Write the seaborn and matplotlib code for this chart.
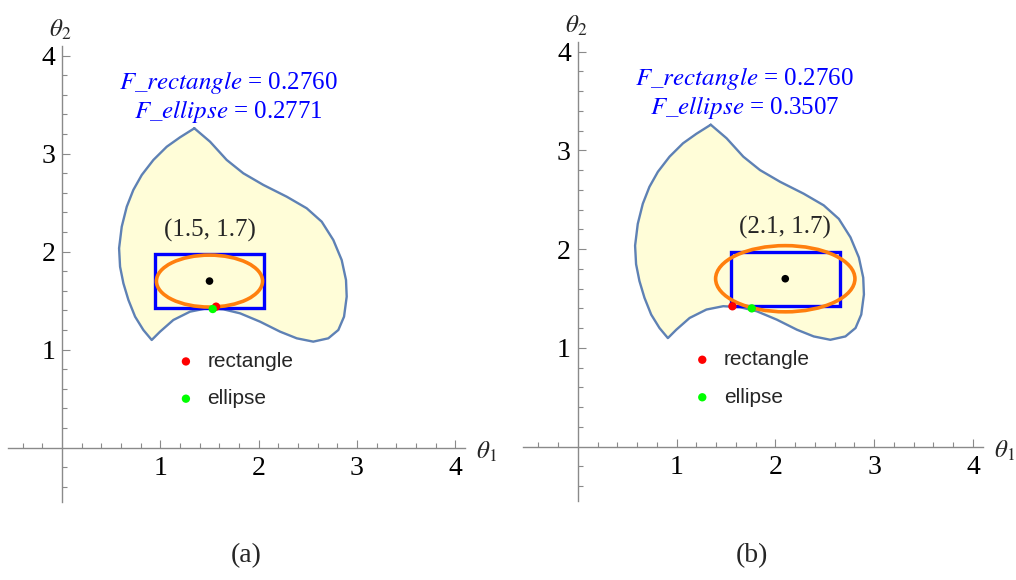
import numpy as np
import matplotlib
matplotlib.use("Agg")
import matplotlib.pyplot as plt
from matplotlib.patches import Rectangle, Ellipse
import seaborn as sns

sns.set_theme(style="white")
plt.rcParams["font.family"] = ["Liberation Serif", "DejaVu Serif"]
plt.rcParams["mathtext.fontset"] = "stix"

# feasible region outline (same for both panels), clockwise from the top cusp
boundary_x = [1.346, 1.506, 1.675, 1.844, 2.048, 2.286, 2.489, 2.642, 2.760, 2.845, 2.889,
              2.896, 2.869, 2.811, 2.709, 2.556, 2.388, 2.218, 2.014, 1.811, 1.641, 1.472,
              1.302, 1.132, 0.997, 0.912, 0.827, 0.743, 0.675, 0.624, 0.590, 0.580, 0.607,
              0.658, 0.725, 0.811, 0.929, 1.065, 1.200, 1.346]
boundary_y = [3.259, 3.122, 2.936, 2.800, 2.681, 2.561, 2.443, 2.306, 2.119, 1.915, 1.711,
              1.541, 1.337, 1.201, 1.116, 1.082, 1.116, 1.184, 1.286, 1.371, 1.412, 1.422,
              1.388, 1.303, 1.184, 1.099, 1.201, 1.337, 1.507, 1.677, 1.847, 2.035, 2.255,
              2.459, 2.630, 2.783, 2.936, 3.071, 3.167, 3.259]

center_x = [1.5, 2.1]
center_y = [1.7, 1.7]
center_labels = ["(1.5, 1.7)", "(2.1, 1.7)"]
rect_w = [1.10, 1.10]
rect_h = [0.55, 0.55]
ellipse_w = [1.08, 1.41]
ellipse_h = [0.53, 0.67]
rect_pt_x = [1.567, 1.565]
rect_pt_y = [1.439, 1.421]
ell_pt_x = [1.533, 1.761]
ell_pt_y = [1.415, 1.400]
f_rect = ["0.2760", "0.2760"]
f_ell = ["0.2771", "0.3507"]
captions = ["(a)", "(b)"]

axis_gray = "#8a8a8a"
edge_blue = "#5E81B5"
fill_yellow = "#FFFDD8"

fig = plt.figure(figsize=(10.16, 5.8), dpi=100)
positions = [[0.0079, 0.1352, 0.4498, 0.7857], [0.5152, 0.1362, 0.4522, 0.7920]]
caption_x = [0.242, 0.740]

minor = [v for v in np.arange(-0.4, 4.01, 0.2) if abs(v - round(v)) > 1e-6]

for i in range(2):
    ax = fig.add_axes(positions[i])
    ax.set_xlim(-0.55, 4.1)
    ax.set_ylim(-0.55, 4.1)

    # region
    ax.fill(boundary_x, boundary_y, color=fill_yellow, zorder=1)
    sns.lineplot(x=boundary_x, y=boundary_y, sort=False, color=edge_blue,
                 lw=1.7, ax=ax, zorder=2, estimator=None)

    # inscribed shapes
    ax.add_patch(Rectangle((center_x[i] - rect_w[i] / 2, center_y[i] - rect_h[i] / 2),
                           rect_w[i], rect_h[i], fill=False, ec="#0000FF", lw=2.4, zorder=3))
    ax.add_patch(Ellipse((center_x[i], center_y[i]), ellipse_w[i], ellipse_h[i],
                         fill=False, ec="#FF7F0E", lw=2.6, zorder=4))

    sns.scatterplot(x=[center_x[i]], y=[center_y[i]], color="black", s=30,
                    edgecolor="none", ax=ax, zorder=5)
    sns.scatterplot(x=[rect_pt_x[i]], y=[rect_pt_y[i]], color="#FF0000", s=36,
                    edgecolor="none", ax=ax, zorder=5)
    sns.scatterplot(x=[ell_pt_x[i]], y=[ell_pt_y[i]], color="#00FF00", s=36,
                    edgecolor="none", ax=ax, zorder=6)

    # legend drawn as text, like the original
    sns.scatterplot(x=[1.26, 1.26], y=[0.88, 0.50], hue=["r", "e"],
                    palette=["#FF0000", "#00FF00"], s=36, edgecolor="none",
                    legend=False, ax=ax, zorder=5)
    ax.text(1.48, 0.88, "rectangle", family=["Liberation Sans"], fontsize=15,
            va="center", ha="left")
    ax.text(1.48, 0.50, "ellipse", family=["Liberation Sans"], fontsize=15,
            va="center", ha="left")

    ax.text(center_x[i], 2.22, center_labels[i], fontsize=18, ha="center", va="center")
    ax.text(1.69, 3.73, r"$F\_rectangle$ = " + f_rect[i], fontsize=18, color="#0000FF",
            ha="center", va="center")
    ax.text(1.69, 3.43, r"$F\_ellipse$ = " + f_ell[i], fontsize=18, color="#0000FF",
            ha="center", va="center")

    # axes through the origin
    for s in ["top", "right"]:
        ax.spines[s].set_visible(False)
    for s in ["left", "bottom"]:
        ax.spines[s].set_position(("data", 0))
        ax.spines[s].set_color(axis_gray)
        ax.spines[s].set_linewidth(1.0)
    ax.set_xticks([1, 2, 3, 4])
    ax.set_yticks([1, 2, 3, 4])
    ax.set_xticks(minor, minor=True)
    ax.set_yticks(minor, minor=True)
    ax.tick_params(which="both", bottom=True, left=True, direction="in", width=0.8,
                   color=axis_gray)
    ax.tick_params(which="major", length=6, labelsize=20, labelcolor="black")
    ax.tick_params(axis="x", which="major", pad=6)
    ax.tick_params(axis="y", which="major", pad=5)
    ax.tick_params(which="minor", length=3.5)
    ax.set_xlabel("")
    ax.set_ylabel("")

    ax.text(-0.02, 4.26, r"$\theta_2$", fontsize=18, ha="center", va="center", clip_on=False)
    ax.text(4.32, -0.04, r"$\theta_1$", fontsize=18, ha="center", va="center", clip_on=False)

    fig.text(caption_x[i], 1 - 556 / 580, captions[i], fontsize=20, ha="center", va="center")

fig.savefig("out.png", dpi=100)
